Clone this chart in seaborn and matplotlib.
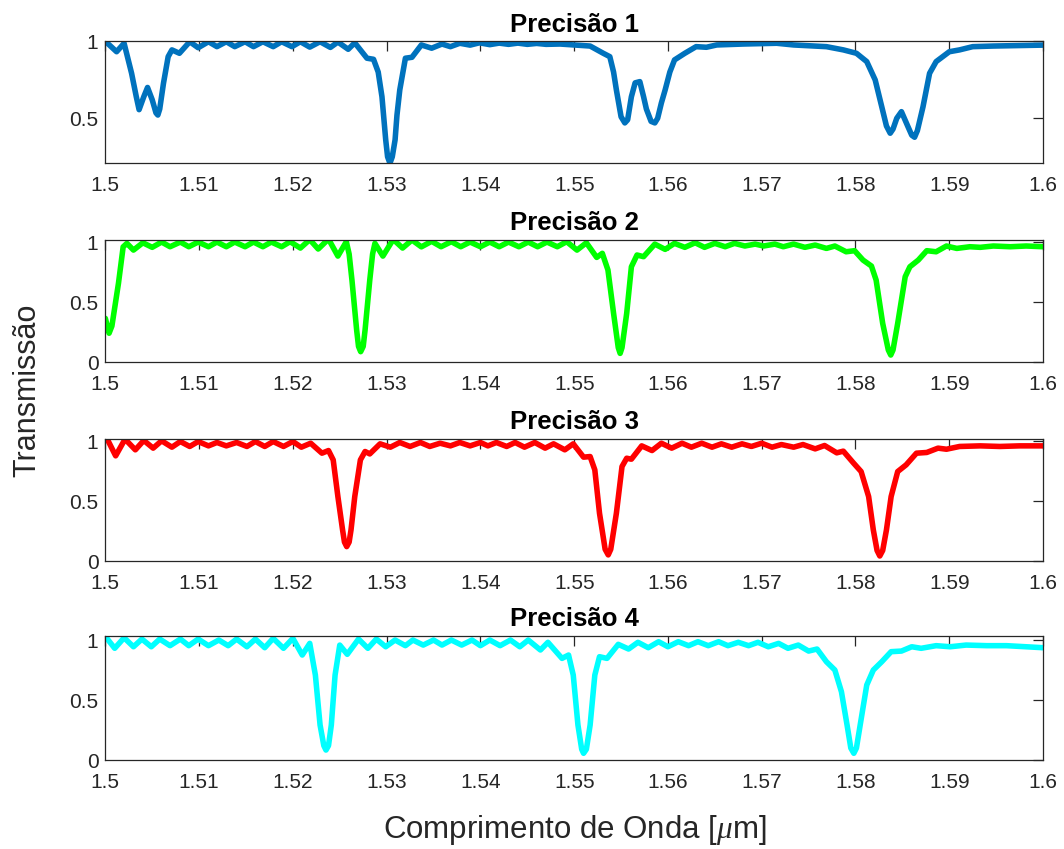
import matplotlib
matplotlib.use("Agg")
import matplotlib.pyplot as plt
import numpy as np
import pandas as pd
import seaborn as sns

# ---------------- data ----------------
titles = ["Precisão 1", "Precisão 2", "Precisão 3", "Precisão 4"]
colors = ["#0072BD", "#00FF00", "#FF0000", "#00FFFF"]
xticks = [1.5, 1.51, 1.52, 1.53, 1.54, 1.55, 1.56, 1.57, 1.58, 1.59, 1.6]
xtick_labels = ["1.5", "1.51", "1.52", "1.53", "1.54", "1.55", "1.56", "1.57", "1.58", "1.59", "1.6"]

wl_1 = [1.5000, 1.5012, 1.5020, 1.5028, 1.5033, 1.5036, 1.5041, 1.5045, 1.5050, 1.5054,
        1.5056, 1.5058, 1.5062, 1.5067, 1.5071, 1.5079, 1.5090, 1.5099, 1.5110, 1.5119,
        1.5129, 1.5138, 1.5149, 1.5158, 1.5168, 1.5179, 1.5188, 1.5199, 1.5208, 1.5218,
        1.5229, 1.5240, 1.5248, 1.5259, 1.5266, 1.5279, 1.5286, 1.5291, 1.5295, 1.5299,
        1.5301, 1.53035, 1.5306, 1.5309, 1.5311, 1.5314, 1.5320, 1.5327, 1.5337, 1.5348,
        1.5359, 1.5368, 1.5378, 1.5389, 1.5399, 1.5410, 1.5420, 1.5430, 1.5440, 1.5450,
        1.5460, 1.5470, 1.5485, 1.5517, 1.5531, 1.5538, 1.5542, 1.5545, 1.5550, 1.5554,
        1.5557, 1.5561, 1.5565, 1.5570, 1.5574, 1.5577, 1.5582, 1.5586, 1.5589, 1.5593,
        1.5597, 1.5602, 1.5607, 1.5618, 1.5630, 1.5641, 1.5652, 1.5680, 1.5716, 1.5734,
        1.5769, 1.5787, 1.5801, 1.5812, 1.5821, 1.5828, 1.5833, 1.5837, 1.5840, 1.5844,
        1.5849, 1.5856, 1.5860, 1.5863, 1.5866, 1.5872, 1.5879, 1.5886, 1.5900, 1.5911,
        1.5925, 1.5947, 1.6000]
tr_1 = [1.000, 0.932, 0.987, 0.792, 0.640, 0.556, 0.640, 0.700, 0.620, 0.535,
        0.521, 0.560, 0.727, 0.900, 0.944, 0.922, 0.997, 0.958, 0.997, 0.965,
        0.997, 0.965, 0.997, 0.965, 0.997, 0.965, 0.997, 0.965, 0.997, 0.962,
        0.997, 0.960, 0.995, 0.948, 0.990, 0.890, 0.883, 0.800, 0.640, 0.360,
        0.250, 0.208, 0.250, 0.360, 0.520, 0.684, 0.890, 0.896, 0.976, 0.955,
        0.982, 0.965, 0.987, 0.975, 0.990, 0.978, 0.988, 0.980, 0.988, 0.980,
        0.986, 0.980, 0.982, 0.969, 0.922, 0.900, 0.800, 0.684, 0.510, 0.470,
        0.490, 0.640, 0.730, 0.738, 0.640, 0.560, 0.480, 0.470, 0.500, 0.600,
        0.684, 0.800, 0.879, 0.922, 0.965, 0.961, 0.976, 0.982, 0.987, 0.976,
        0.965, 0.944, 0.922, 0.868, 0.749, 0.575, 0.450, 0.403, 0.430, 0.500,
        0.543, 0.445, 0.390, 0.377, 0.420, 0.575, 0.792, 0.868, 0.932, 0.944,
        0.965, 0.969, 0.975]

wl_2 = [1.5000, 1.5004, 1.5007, 1.5014, 1.5019, 1.5023, 1.5030, 1.5040, 1.5050, 1.5060,
        1.5069, 1.5080, 1.5089, 1.5099, 1.5110, 1.5119, 1.5129, 1.5138, 1.5149, 1.5158,
        1.5168, 1.5177, 1.5188, 1.5197, 1.5208, 1.5218, 1.5227, 1.5238, 1.5248, 1.5257,
        1.5260, 1.5263, 1.5268, 1.5270, 1.52723, 1.5275, 1.5277, 1.5282, 1.5285, 1.52875,
        1.5296, 1.5307, 1.5317, 1.5327, 1.5337, 1.5348, 1.5358, 1.5369, 1.5379, 1.5389,
        1.5400, 1.5410, 1.5420, 1.5430, 1.5441, 1.5451, 1.5461, 1.5471, 1.5482, 1.5492,
        1.5503, 1.5513, 1.5524, 1.5530, 1.5536, 1.5542, 1.5547, 1.5549, 1.5551, 1.5556,
        1.5561, 1.5567, 1.5574, 1.5586, 1.5597, 1.5607, 1.5618, 1.5629, 1.5639, 1.5650,
        1.5661, 1.5671, 1.5682, 1.5693, 1.5702, 1.5714, 1.5723, 1.5734, 1.5746, 1.5757,
        1.5769, 1.5778, 1.5790, 1.5799, 1.5808, 1.5817, 1.5822, 1.5829, 1.5835, 1.58376,
        1.5840, 1.5845, 1.5853, 1.5858, 1.5867, 1.5876, 1.5886, 1.5897, 1.5908, 1.5922,
        1.5933, 1.5947, 1.5965, 1.5982, 1.6000]
tr_2 = [0.364, 0.240, 0.300, 0.656, 0.960, 0.989, 0.933, 0.994, 0.956, 1.000,
        0.961, 1.000, 0.961, 1.000, 0.961, 1.000, 0.961, 1.000, 0.961, 1.000,
        0.961, 1.000, 0.961, 1.003, 0.950, 1.020, 0.942, 1.025, 0.883, 1.003,
        0.900, 0.683, 0.267, 0.130, 0.086, 0.130, 0.267, 0.683, 0.900, 0.989,
        0.883, 1.022, 0.950, 1.017, 0.960, 1.006, 0.961, 1.003, 0.961, 1.000,
        0.961, 1.000, 0.961, 1.000, 0.961, 1.000, 0.961, 1.000, 0.961, 1.003,
        0.933, 0.994, 0.872, 0.906, 0.767, 0.406, 0.120, 0.072, 0.120, 0.406,
        0.794, 0.892, 0.878, 0.983, 0.939, 0.989, 0.956, 0.994, 0.956, 0.989,
        0.961, 0.989, 0.967, 0.983, 0.967, 0.983, 0.961, 0.983, 0.956, 0.975,
        0.947, 0.967, 0.919, 0.928, 0.850, 0.800, 0.683, 0.322, 0.100, 0.058,
        0.100, 0.322, 0.711, 0.794, 0.850, 0.928, 0.919, 0.967, 0.947, 0.961,
        0.956, 0.967, 0.961, 0.967, 0.961]

wl_3 = [1.5000, 1.5002, 1.5011, 1.5021, 1.5032, 1.5041, 1.5051, 1.5060, 1.5071, 1.5080,
        1.5090, 1.5099, 1.5110, 1.5119, 1.5129, 1.5140, 1.5151, 1.5160, 1.5170, 1.5179,
        1.5190, 1.5200, 1.5209, 1.5219, 1.5231, 1.5238, 1.5243, 1.5248, 1.5253, 1.5255,
        1.52574, 1.5260, 1.5262, 1.5266, 1.5272, 1.5277, 1.5282, 1.5293, 1.5304, 1.5314,
        1.5325, 1.5336, 1.5346, 1.5357, 1.5368, 1.5378, 1.5389, 1.5400, 1.5408, 1.5417,
        1.5428, 1.5437, 1.5447, 1.5458, 1.5469, 1.5478, 1.5490, 1.5499, 1.5510, 1.5517,
        1.5522, 1.5527, 1.5533, 1.55363, 1.5539, 1.5545, 1.5551, 1.5556, 1.5561, 1.5572,
        1.5583, 1.5593, 1.5604, 1.5615, 1.5625, 1.5636, 1.5647, 1.5657, 1.5668, 1.5679,
        1.5689, 1.5700, 1.5711, 1.5721, 1.5734, 1.5744, 1.5757, 1.5767, 1.5780, 1.5787,
        1.5798, 1.5806, 1.5814, 1.5819, 1.5823, 1.58259, 1.5829, 1.5833, 1.5838, 1.5845,
        1.5854, 1.5865, 1.5876, 1.5888, 1.5897, 1.5911, 1.5933, 1.5954, 1.5975, 1.6000]
tr_3 = [1.010, 1.018, 0.878, 1.017, 0.928, 1.006, 0.942, 1.003, 0.950, 0.997,
        0.956, 0.997, 0.961, 0.989, 0.961, 0.989, 0.956, 0.997, 0.956, 0.997,
        0.956, 0.997, 0.950, 0.983, 0.900, 0.922, 0.844, 0.539, 0.261, 0.160,
        0.122, 0.160, 0.261, 0.539, 0.844, 0.914, 0.894, 0.978, 0.950, 0.989,
        0.956, 0.989, 0.956, 0.983, 0.961, 0.989, 0.961, 0.989, 0.961, 0.989,
        0.956, 0.989, 0.950, 0.989, 0.942, 0.978, 0.928, 0.978, 0.867, 0.872,
        0.761, 0.400, 0.100, 0.053, 0.100, 0.400, 0.789, 0.858, 0.850, 0.961,
        0.922, 0.983, 0.942, 0.983, 0.950, 0.983, 0.950, 0.978, 0.950, 0.978,
        0.956, 0.983, 0.950, 0.972, 0.950, 0.972, 0.936, 0.964, 0.903, 0.917,
        0.817, 0.747, 0.539, 0.261, 0.090, 0.044, 0.090, 0.261, 0.539, 0.747,
        0.803, 0.900, 0.906, 0.942, 0.933, 0.956, 0.961, 0.956, 0.961, 0.961]

wl_4 = [1.5000, 1.5010, 1.5020, 1.5030, 1.5039, 1.5049, 1.5058, 1.5069, 1.5080, 1.5089,
        1.5099, 1.5110, 1.5121, 1.5131, 1.5140, 1.5151, 1.5160, 1.5170, 1.5179, 1.5190,
        1.5200, 1.5210, 1.5218, 1.5224, 1.5229, 1.5233, 1.52353, 1.5238, 1.5241, 1.5245,
        1.5250, 1.5258, 1.5270, 1.5280, 1.5289, 1.5299, 1.5309, 1.5320, 1.5328, 1.5339,
        1.5350, 1.5359, 1.5369, 1.5380, 1.5391, 1.5400, 1.5410, 1.5421, 1.5432, 1.5442,
        1.5451, 1.5464, 1.5472, 1.5487, 1.5494, 1.5499, 1.5504, 1.5508, 1.5510, 1.5513,
        1.5517, 1.5522, 1.5527, 1.5535, 1.5547, 1.5558, 1.5568, 1.5579, 1.5590, 1.5600,
        1.5611, 1.5622, 1.5632, 1.5643, 1.5654, 1.5664, 1.5675, 1.5686, 1.5696, 1.5707,
        1.5718, 1.5728, 1.5739, 1.5750, 1.5759, 1.5769, 1.5778, 1.5785, 1.5791, 1.5795,
        1.57982, 1.5801, 1.5805, 1.5812, 1.5819, 1.5828, 1.5838, 1.5849, 1.5860, 1.5870,
        1.5886, 1.5901, 1.5918, 1.5940, 1.5961, 1.6000]
tr_4 = [1.030, 0.931, 1.019, 0.944, 1.008, 0.944, 1.008, 0.953, 1.008, 0.953,
        1.008, 0.953, 1.000, 0.953, 1.008, 0.944, 1.008, 0.936, 1.014, 0.931,
        1.014, 0.875, 0.972, 0.708, 0.292, 0.120, 0.083, 0.120, 0.292, 0.708,
        0.958, 0.881, 1.008, 0.931, 1.008, 0.944, 1.000, 0.953, 1.000, 0.958,
        1.000, 0.958, 1.000, 0.958, 1.000, 0.953, 1.000, 0.953, 1.000, 0.944,
        1.000, 0.917, 0.981, 0.847, 0.875, 0.708, 0.292, 0.090, 0.056, 0.090,
        0.292, 0.708, 0.861, 0.847, 0.964, 0.925, 0.981, 0.936, 0.986, 0.944,
        0.986, 0.953, 0.986, 0.953, 0.986, 0.953, 0.981, 0.953, 0.981, 0.944,
        0.972, 0.931, 0.958, 0.908, 0.925, 0.819, 0.750, 0.569, 0.292, 0.100,
        0.056, 0.100, 0.292, 0.625, 0.750, 0.819, 0.903, 0.908, 0.944, 0.931,
        0.953, 0.944, 0.958, 0.953, 0.953, 0.936]

series_x = [wl_1, wl_2, wl_3, wl_4]
series_y = [tr_1, tr_2, tr_3, tr_4]

# ---------------- styling / layout ----------------
sns.set_theme(style="white")
plt.rcParams["font.family"] = ["Liberation Sans", "DejaVu Sans"]
plt.rcParams["mathtext.fontset"] = "custom"
plt.rcParams["mathtext.rm"] = "Liberation Sans"
plt.rcParams["mathtext.it"] = "Liberation Serif:italic"

axcol = "#262626"
fig = plt.figure(figsize=(10.64, 8.49), dpi=100)
fig.patch.set_facecolor("white")

# [left, bottom, width, height] in figure fractions
positions = [
    [0.0990, 0.8077, 0.8813, 0.1437],
    [0.0990, 0.5736, 0.8813, 0.1437],
    [0.0990, 0.3389, 0.8813, 0.1440],
    [0.0990, 0.1048, 0.8813, 0.1460],
]
ylims = [(0.208, 1.0), (0.0, 1.017), (0.0, 1.018), (0.0, 1.033)]
yticks_list = [[0.5, 1.0], [0.0, 0.5, 1.0], [0.0, 0.5, 1.0], [0.0, 0.5, 1.0]]
ytick_labels = [["0.5", "1"], ["0", "0.5", "1"], ["0", "0.5", "1"], ["0", "0.5", "1"]]

for i in range(4):
    ax = fig.add_axes(positions[i])
    df = pd.DataFrame({"wl": series_x[i], "T": series_y[i]})
    sns.lineplot(data=df, x="wl", y="T", ax=ax, color=colors[i], linewidth=4.0,
                 sort=False, estimator=None)
    for ln in ax.lines:
        ln.set_solid_joinstyle("round")
        ln.set_solid_capstyle("round")
    ax.set_xlim(1.5, 1.6)
    ax.set_ylim(*ylims[i])
    ax.set_xticks(xticks)
    ax.set_xticklabels(xtick_labels)
    ax.set_yticks(yticks_list[i])
    ax.set_yticklabels(ytick_labels[i])
    ax.set_xlabel("")
    ax.set_ylabel("")
    for sp in ax.spines.values():
        sp.set_visible(True)
        sp.set_color(axcol)
        sp.set_linewidth(0.9)
    ax.tick_params(direction="in", length=7, width=0.9, colors=axcol,
                   labelsize=15, top=True, right=True)
    ax.tick_params(axis="x", pad=9)
    ax.tick_params(axis="y", pad=5)
    ax.set_title(titles[i], fontweight="bold", fontsize=18.5, pad=7, color="black")

fig.text(0.026, 0.54, "Transmissão", rotation=90, ha="center", va="center",
         fontsize=22, color=axcol)
fig.text(0.54, 0.0224, r"Comprimento de Onda [$\mu$m]", ha="center", va="center",
         fontsize=22.5, color=axcol)

fig.savefig("out.png", dpi=100, facecolor="white")
